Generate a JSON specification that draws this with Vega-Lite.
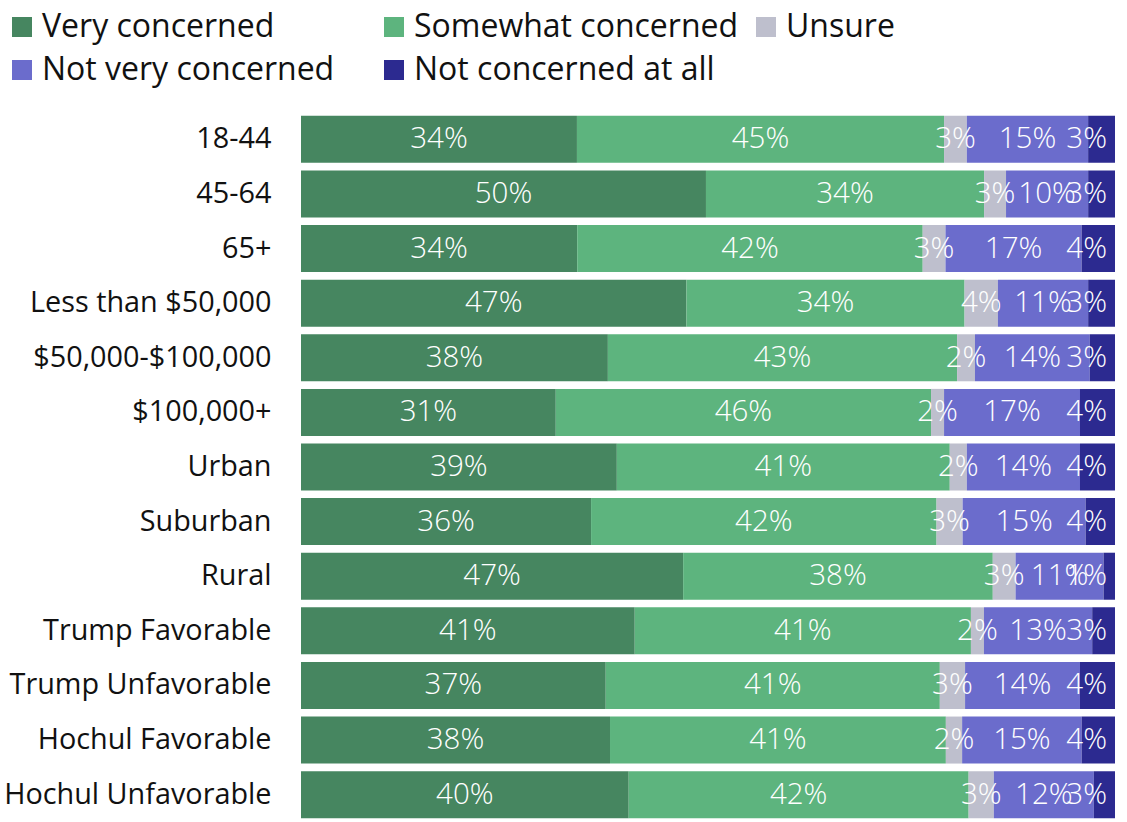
{
  "$schema": "https://vega.github.io/schema/vega-lite/v6.json",
  "width": 814,
  "height": 710,
  "autosize": {"type": "none"},
  "padding": {"left": 301, "top": 112, "right": 12, "bottom": 0},
  "background": "white",
  "config": {"view": {"stroke": null}, "font": "Open Sans"},
  "data": {"values": [
    {"g": "18-44", "c": "Very concerned", "k": 1, "v": 0.339},
    {"g": "18-44", "c": "Somewhat concerned", "k": 2, "v": 0.451},
    {"g": "18-44", "c": "Unsure", "k": 3, "v": 0.028},
    {"g": "18-44", "c": "Not very concerned", "k": 4, "v": 0.149},
    {"g": "18-44", "c": "Not concerned at all", "k": 5, "v": 0.033},
    {"g": "45-64", "c": "Very concerned", "k": 1, "v": 0.498},
    {"g": "45-64", "c": "Somewhat concerned", "k": 2, "v": 0.342},
    {"g": "45-64", "c": "Unsure", "k": 3, "v": 0.027},
    {"g": "45-64", "c": "Not very concerned", "k": 4, "v": 0.101},
    {"g": "45-64", "c": "Not concerned at all", "k": 5, "v": 0.033},
    {"g": "65+", "c": "Very concerned", "k": 1, "v": 0.339},
    {"g": "65+", "c": "Somewhat concerned", "k": 2, "v": 0.424},
    {"g": "65+", "c": "Unsure", "k": 3, "v": 0.028},
    {"g": "65+", "c": "Not very concerned", "k": 4, "v": 0.167},
    {"g": "65+", "c": "Not concerned at all", "k": 5, "v": 0.041},
    {"g": "Less than $50,000", "c": "Very concerned", "k": 1, "v": 0.474},
    {"g": "Less than $50,000", "c": "Somewhat concerned", "k": 2, "v": 0.342},
    {"g": "Less than $50,000", "c": "Unsure", "k": 3, "v": 0.041},
    {"g": "Less than $50,000", "c": "Not very concerned", "k": 4, "v": 0.111},
    {"g": "Less than $50,000", "c": "Not concerned at all", "k": 5, "v": 0.033},
    {"g": "$50,000-$100,000", "c": "Very concerned", "k": 1, "v": 0.377},
    {"g": "$50,000-$100,000", "c": "Somewhat concerned", "k": 2, "v": 0.429},
    {"g": "$50,000-$100,000", "c": "Unsure", "k": 3, "v": 0.022},
    {"g": "$50,000-$100,000", "c": "Not very concerned", "k": 4, "v": 0.141},
    {"g": "$50,000-$100,000", "c": "Not concerned at all", "k": 5, "v": 0.031},
    {"g": "$100,000+", "c": "Very concerned", "k": 1, "v": 0.313},
    {"g": "$100,000+", "c": "Somewhat concerned", "k": 2, "v": 0.461},
    {"g": "$100,000+", "c": "Unsure", "k": 3, "v": 0.016},
    {"g": "$100,000+", "c": "Not very concerned", "k": 4, "v": 0.167},
    {"g": "$100,000+", "c": "Not concerned at all", "k": 5, "v": 0.043},
    {"g": "Urban", "c": "Very concerned", "k": 1, "v": 0.388},
    {"g": "Urban", "c": "Somewhat concerned", "k": 2, "v": 0.409},
    {"g": "Urban", "c": "Unsure", "k": 3, "v": 0.021},
    {"g": "Urban", "c": "Not very concerned", "k": 4, "v": 0.139},
    {"g": "Urban", "c": "Not concerned at all", "k": 5, "v": 0.043},
    {"g": "Suburban", "c": "Very concerned", "k": 1, "v": 0.356},
    {"g": "Suburban", "c": "Somewhat concerned", "k": 2, "v": 0.424},
    {"g": "Suburban", "c": "Unsure", "k": 3, "v": 0.032},
    {"g": "Suburban", "c": "Not very concerned", "k": 4, "v": 0.151},
    {"g": "Suburban", "c": "Not concerned at all", "k": 5, "v": 0.036},
    {"g": "Rural", "c": "Very concerned", "k": 1, "v": 0.469},
    {"g": "Rural", "c": "Somewhat concerned", "k": 2, "v": 0.38},
    {"g": "Rural", "c": "Unsure", "k": 3, "v": 0.028},
    {"g": "Rural", "c": "Not very concerned", "k": 4, "v": 0.108},
    {"g": "Rural", "c": "Not concerned at all", "k": 5, "v": 0.014},
    {"g": "Trump Favorable", "c": "Very concerned", "k": 1, "v": 0.41},
    {"g": "Trump Favorable", "c": "Somewhat concerned", "k": 2, "v": 0.413},
    {"g": "Trump Favorable", "c": "Unsure", "k": 3, "v": 0.016},
    {"g": "Trump Favorable", "c": "Not very concerned", "k": 4, "v": 0.133},
    {"g": "Trump Favorable", "c": "Not concerned at all", "k": 5, "v": 0.028},
    {"g": "Trump Unfavorable", "c": "Very concerned", "k": 1, "v": 0.374},
    {"g": "Trump Unfavorable", "c": "Somewhat concerned", "k": 2, "v": 0.41},
    {"g": "Trump Unfavorable", "c": "Unsure", "k": 3, "v": 0.031},
    {"g": "Trump Unfavorable", "c": "Not very concerned", "k": 4, "v": 0.141},
    {"g": "Trump Unfavorable", "c": "Not concerned at all", "k": 5, "v": 0.043},
    {"g": "Hochul Favorable", "c": "Very concerned", "k": 1, "v": 0.38},
    {"g": "Hochul Favorable", "c": "Somewhat concerned", "k": 2, "v": 0.413},
    {"g": "Hochul Favorable", "c": "Unsure", "k": 3, "v": 0.02},
    {"g": "Hochul Favorable", "c": "Not very concerned", "k": 4, "v": 0.147},
    {"g": "Hochul Favorable", "c": "Not concerned at all", "k": 5, "v": 0.041},
    {"g": "Hochul Unfavorable", "c": "Very concerned", "k": 1, "v": 0.403},
    {"g": "Hochul Unfavorable", "c": "Somewhat concerned", "k": 2, "v": 0.418},
    {"g": "Hochul Unfavorable", "c": "Unsure", "k": 3, "v": 0.031},
    {"g": "Hochul Unfavorable", "c": "Not very concerned", "k": 4, "v": 0.123},
    {"g": "Hochul Unfavorable", "c": "Not concerned at all", "k": 5, "v": 0.026}
  ]},
  "encoding": {
    "y": {
      "field": "g", "type": "nominal", "sort": null,
      "scale": {"paddingInner": 0.139, "paddingOuter": 0.07},
      "axis": {"title": null, "domain": false, "ticks": false, "labelFontSize": 28.8, "labelColor": "#111111", "labelPadding": 30, "labelLimit": 0, "labelFont": "Open Sans"}
    }
  },
  "layer": [
    {
      "mark": {"type": "bar"},
      "encoding": {
        "x": {"field": "v", "type": "quantitative", "stack": "normalize", "axis": null, "scale": {"domain": [0, 1]}},
        "order": {"field": "k", "type": "quantitative"},
        "color": {
          "field": "c", "type": "nominal",
          "scale": {
            "domain": ["Very concerned", "Somewhat concerned", "Unsure", "Not very concerned", "Not concerned at all"],
            "range": ["#468660", "#5db47e", "#bebfcd", "#6b6ccc", "#2c2a90"]
          },
          "legend": {
            "title": null, "orient": "none", "legendX": -295, "legendY": -101,
            "direction": "horizontal", "columns": 3, "gridAlign": "all",
            "symbolType": "square", "symbolSize": 400, "symbolStrokeWidth": 0, "symbolOpacity": 1,
            "labelFontSize": 32, "labelColor": "#111111", "labelFont": "Open Sans", "labelOffset": 4, "labelLimit": 0,
            "rowPadding": 11, "columnPadding": 11
          }
        }
      }
    },
    {
      "mark": {"type": "text", "color": "white", "fontSize": 29.5, "fontWeight": 300, "baseline": "middle", "align": "center"},
      "encoding": {
        "x": {"field": "v", "type": "quantitative", "stack": "normalize", "bandPosition": 0.5},
        "order": {"field": "k", "type": "quantitative"},
        "detail": {"field": "c"},
        "text": {"field": "v", "type": "quantitative", "format": ".0%"},
        "opacity": {"condition": {"test": "datum.c === 'Not concerned at all'", "value": 0}, "value": 1}
      }
    },
    {
      "transform": [{"filter": "datum.c === 'Not concerned at all'"}],
      "mark": {"type": "text", "color": "white", "fontSize": 29.5, "fontWeight": 300, "baseline": "middle", "align": "right", "dx": -8},
      "encoding": {
        "x": {"field": "v", "type": "quantitative", "stack": "normalize", "bandPosition": 1},
        "text": {"field": "v", "type": "quantitative", "format": ".0%"}
      }
    }
  ]
}
